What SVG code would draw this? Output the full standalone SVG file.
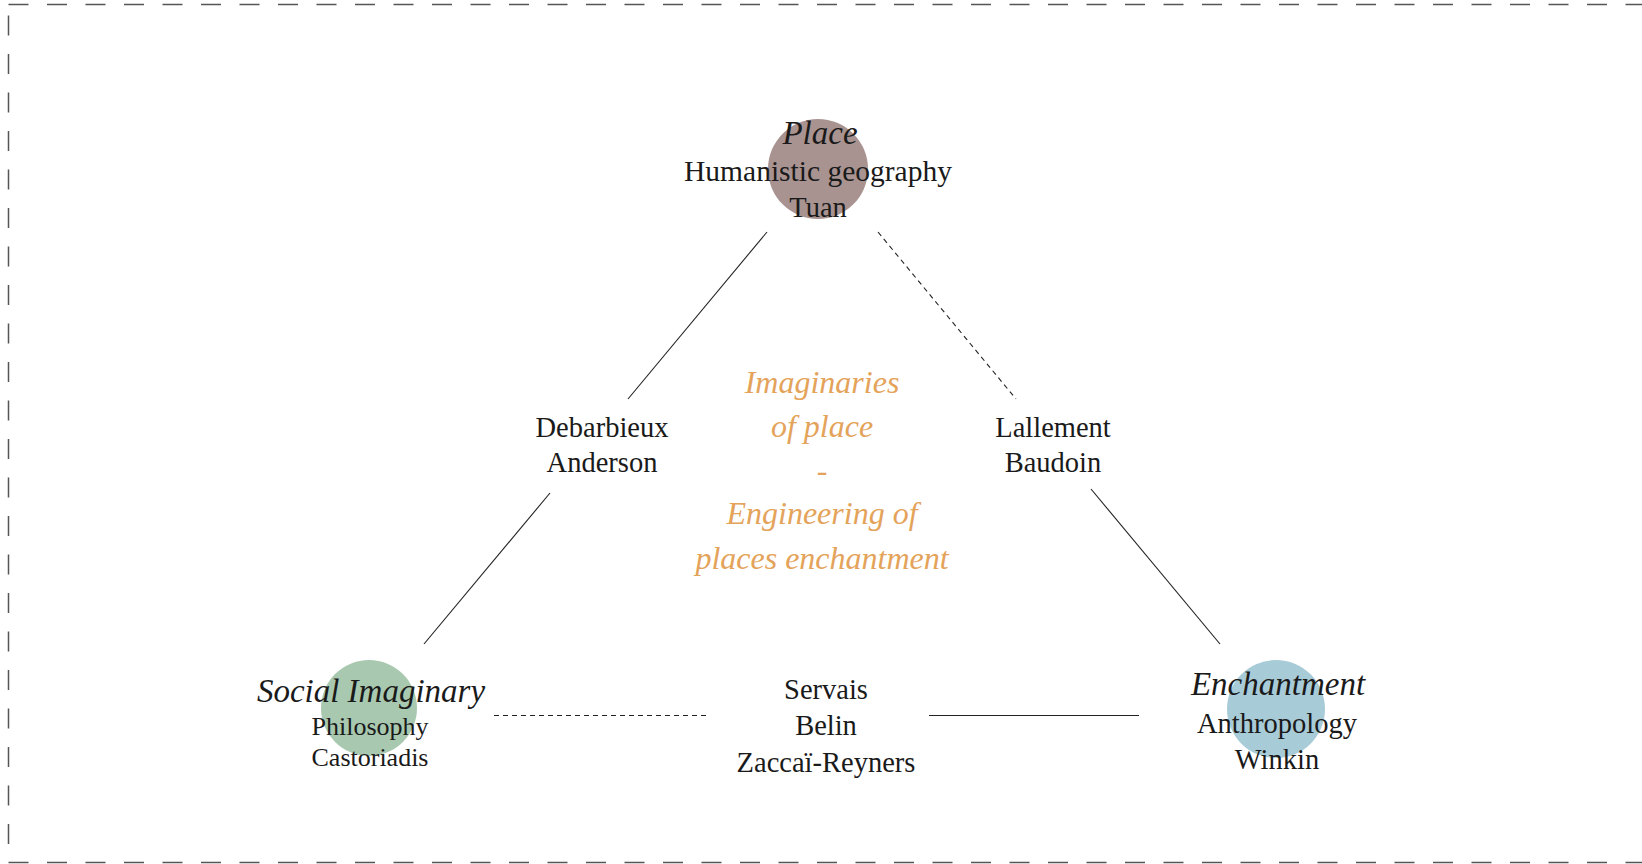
<svg xmlns="http://www.w3.org/2000/svg" width="1642" height="864" viewBox="0 0 1642 864">
<style>
.t{font-family:"Liberation Serif","DejaVu Serif",serif;fill:#1a1a1a;text-anchor:middle;font-size:28.5px}
.h{font-style:italic;font-size:33px}
.o{font-family:"Liberation Serif","DejaVu Serif",serif;fill:#e4a35a;text-anchor:middle;font-style:italic;font-size:32px}
.s{stroke:#222;stroke-width:1.1;fill:none}
.d{stroke:#222;stroke-width:1.1;fill:none;stroke-dasharray:5 4}
</style>
<rect x="8.5" y="4.5" width="1660" height="858" fill="none" stroke="#555" stroke-width="1.5" stroke-dasharray="20 18.5"/>
<g id="connectors">
<line class="s" x1="767" y1="232" x2="628" y2="399"/>
<line class="s" x1="550" y1="493" x2="424" y2="644"/>
<line class="d" x1="878" y1="232" x2="1016" y2="399"/>
<line class="s" x1="1091" y1="489" x2="1220" y2="644"/>
<line class="d" x1="494" y1="715.5" x2="707" y2="715.5"/>
<line class="s" x1="929" y1="715.5" x2="1139" y2="715.5"/>
</g>
<g id="place">
<circle cx="818" cy="169" r="50" fill="#a99391"/>
<text class="t h" x="820" y="144">Place</text>
<text class="t" x="818" y="181" style="font-size:29.5px">Humanistic geography</text>
<text class="t" x="818" y="217">Tuan</text>
</g>
<g id="social-imaginary">
<circle cx="369" cy="708" r="48" fill="#a8c9b0"/>
<text class="t h" x="371" y="702">Social Imaginary</text>
<text class="t" x="370" y="735" style="font-size:26px">Philosophy</text>
<text class="t" x="370" y="766" style="font-size:26px">Castoriadis</text>
</g>
<g id="enchantment">
<circle cx="1276" cy="709" r="49" fill="#a8cbd8"/>
<text class="t h" x="1278" y="695">Enchantment</text>
<text class="t" x="1277" y="733">Anthropology</text>
<text class="t" x="1277" y="769">Winkin</text>
</g>
<g id="debarbieux-anderson">
<text class="t" x="602" y="437">Debarbieux</text>
<text class="t" x="602" y="472">Anderson</text>
</g>
<g id="lallement-baudoin">
<text class="t" x="1053" y="437">Lallement</text>
<text class="t" x="1053" y="472">Baudoin</text>
</g>
<g id="servais-belin">
<text class="t" x="826" y="699">Servais</text>
<text class="t" x="826" y="735">Belin</text>
<text class="t" x="826" y="772">Zaccaï-Reyners</text>
</g>
<g id="center-title">
<text class="o" x="822" y="393">Imaginaries</text>
<text class="o" x="822" y="437">of place</text>
<text class="o" x="822" y="481">-</text>
<text class="o" x="822" y="524">Engineering of</text>
<text class="o" x="822" y="569">places enchantment</text>
</g>
</svg>
